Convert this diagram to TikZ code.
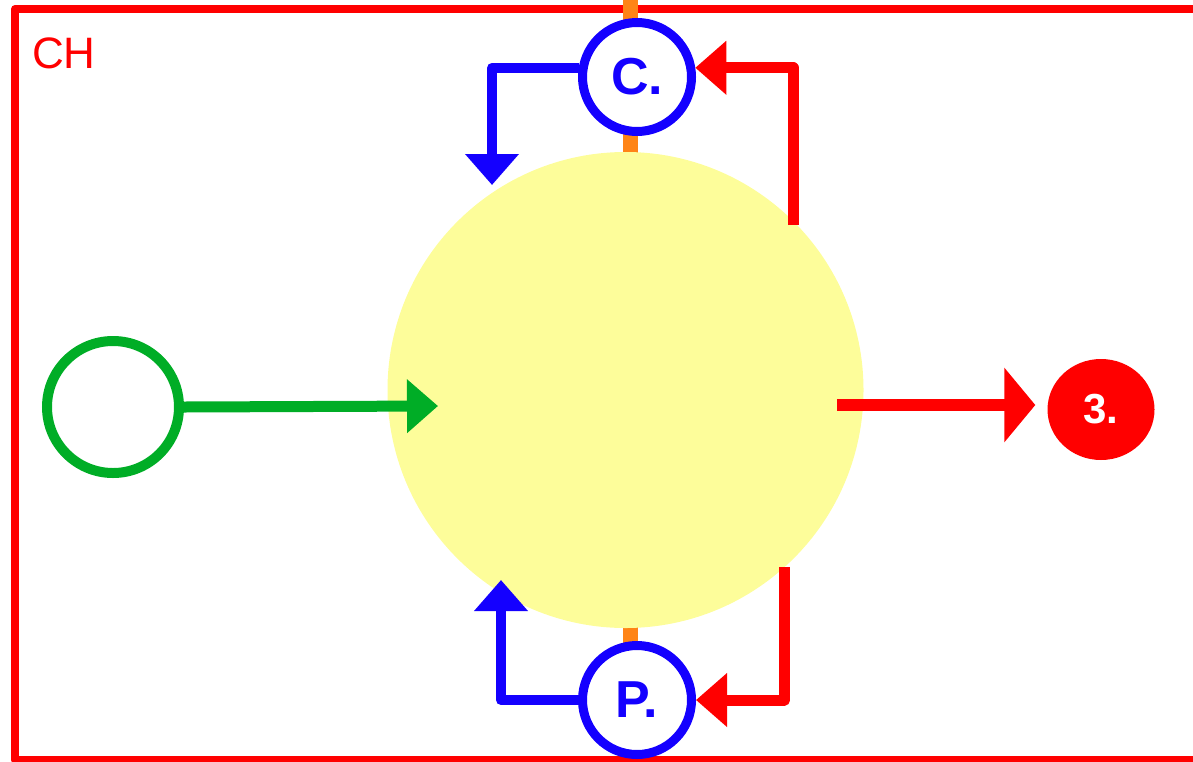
\documentclass[tikz,border=0pt]{standalone}
\usepackage{fontspec}
\setmainfont{Liberation Sans}
\usetikzlibrary{arrows.meta,shapes.geometric}
\definecolor{framered}{RGB}{255,0,0}
\definecolor{cycleblue}{RGB}{20,0,255}
\definecolor{inputgreen}{RGB}{0,173,38}
\definecolor{spindle}{RGB}{255,132,22}
\definecolor{cellfill}{RGB}{253,253,154}
\tikzset{
  tip/.style={-{Triangle[length=31pt,width=52pt]}},
  bluearrow/.style={tip, draw=cycleblue, line width=10pt, line join=round},
  redarrow/.style={tip, draw=framered, line width=11pt, line join=round},
  stage/.style={circle, draw=cycleblue, fill=white, line width=9pt, minimum size=109pt,
    inner sep=0pt, text=cycleblue, font=\fontsize{52}{52}\selectfont\bfseries},
}
\begin{document}
\begin{tikzpicture}[x=1pt,y=-1pt]
\useasboundingbox (0,0) rectangle (1193,761);
\clip (0,0) rectangle (1193,761);

% outer compartment frame
\draw[framered, line width=8pt, line join=round] (15,9) rectangle (1230,760);
\node[anchor=base west, inner sep=0pt, text=framered, font=\fontsize{44}{44}\selectfont] (ch) at (32,68) {CH};

% vertical axis behind the cell
\draw[spindle, line width=15pt] (630,-10) -- (630,700);

% central cell
\node[circle, fill=cellfill, minimum size=476pt, inner sep=0pt] (cell) at (625.5,390) {};

% cycle stages
\node[stage] (C) at (637,77) {C.};
\node[stage] (P) at (637,700) {P.};

% input
\node[circle, draw=inputgreen, line width=10pt, minimum size=132pt, inner sep=0pt] (src) at (113,407) {};
\coordinate (inlet) at (438,406);
\draw[tip, draw=inputgreen, line width=11pt] (src.east) -- (inlet);

% output
\node[ellipse, fill=framered, minimum width=107pt, minimum height=101pt, inner sep=0pt,
  text=white, font=\fontsize{42}{42}\selectfont\bfseries] (out) at (1101,409.5) {3.};
\coordinate (outlet) at (837,405);
\draw[-{Triangle[length=31pt,width=73pt]}, draw=framered, line width=12pt,
  shorten >=12pt] (outlet) -- (outlet -| out.west);

% feedback loops
\coordinate (ctop) at (492,185);
\coordinate (rtop) at (793,225);
\coordinate (cbot) at (501,580);
\coordinate (rbot) at (784.5,567);
\draw[bluearrow] (C.171) -| (ctop);
\draw[redarrow] (rtop) |- (C.9);
\draw[bluearrow] (P.west) -| (cbot);
\draw[redarrow] (rbot) |- (P.east);
\end{tikzpicture}
\end{document}
